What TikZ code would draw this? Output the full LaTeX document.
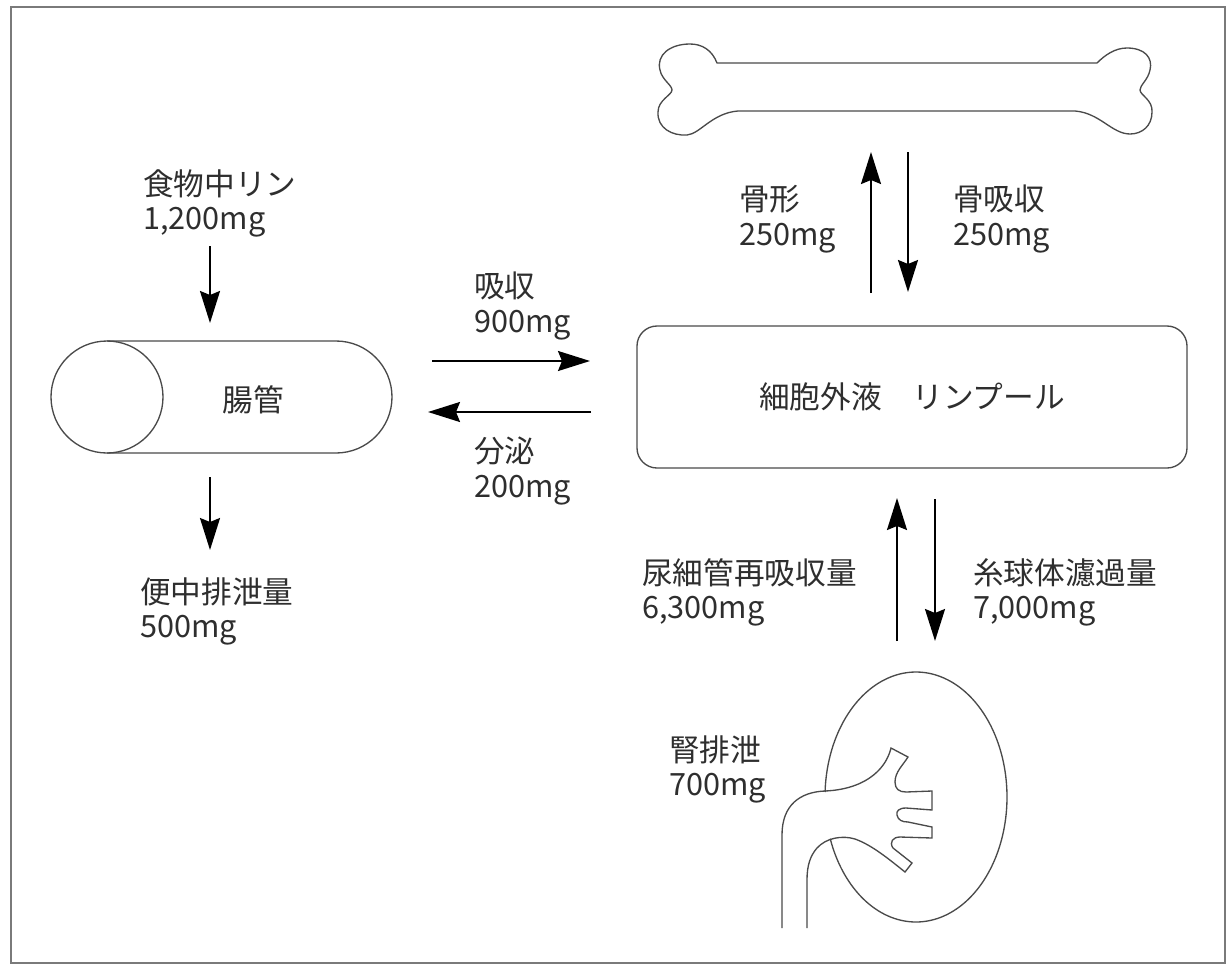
\documentclass[tikz,border=0pt]{standalone}
\usepackage{fontspec}
\setmainfont{Noto Sans CJK JP}
\usetikzlibrary{arrows.meta}
\definecolor{textgray}{HTML}{2E2E2E}
\definecolor{linegray}{HTML}{4A4A4A}
\definecolor{framegray}{HTML}{7A7A7A}
\begin{document}
\begin{tikzpicture}[x=0.75pt,y=-0.75pt,
  outline/.style={draw=linegray,line width=1pt},
  flow/.style={-{Stealth[length=24pt,width=15pt,inset=3pt]},line width=1.5pt,black},
  label/.style={anchor=north west,inner sep=0pt,align=left,text=textgray,
    font=\fontsize{23}{26}\selectfont},
  boxtext/.style={inner sep=0pt,text=textgray,font=\fontsize{23}{26}\selectfont}]
\useasboundingbox (0,0) rectangle (1231,968);

% outer frame
\draw[framegray,line width=2pt] (11,7) rectangle (1225,963);

% intestine: a tube seen from its open end
\draw[outline] (107,341) -- (336,341) arc[start angle=-90,end angle=90,radius=56] -- (107,453);
\draw[outline] (107,397) circle[radius=56];
\node[boxtext] (gut) at (253,400) {腸管};

% extracellular fluid pool
\node[outline,rounded corners=15pt,minimum width=412.5pt,minimum height=106.5pt,
  boxtext] (ecf) at (912,397) {細胞外液　リンプール};

% bone
\draw[outline] (717,63) -- (1097,63)
  .. controls (1105,55) and (1115,48) .. (1127,48)
  .. controls (1145,48) and (1153,58) .. (1150,70)
  .. controls (1148,80) and (1140,85) .. (1140,90)
  .. controls (1140,95) and (1153,100) .. (1152,112)
  .. controls (1152,126) and (1142,134) .. (1130,134)
  .. controls (1112,134) and (1100,113) .. (1075,111)
  -- (738,111)
  .. controls (712,113) and (700,134) .. (687,135)
  .. controls (672,136) and (657,128) .. (658,112)
  .. controls (658,100) and (672,95) .. (672,90)
  .. controls (672,85) and (662,80) .. (660,70)
  .. controls (656,55) and (670,44) .. (690,44)
  .. controls (702,44) and (712,50) .. (717,63) -- cycle;

% kidney
\draw[outline] plot[domain=182.3:520.5,samples=120,smooth]
  ({916+91*cos(\x)},{797+125*sin(\x)});
\draw[outline] (782,928) -- (782,835)
  .. controls (782,805) and (800,792) .. (825,791)
  .. controls (848,790) and (866,783) .. (878,771)
  .. controls (885,764) and (889,756) .. (891,748)
  -- (908,757)
  .. controls (903,765) and (895,772) .. (895,782)
  .. controls (895,789) and (899,792) .. (906,792)
  -- (932,791) -- (932,810) -- (906,808)
  .. controls (899,808) and (896,811) .. (897,815)
  .. controls (898,820) and (902,822) .. (908,822)
  -- (932,827) -- (932,838) -- (900,837)
  .. controls (893,837) and (889,842) .. (893,848)
  -- (912,863) -- (905,872)
  .. controls (890,860) and (872,845) .. (855,839)
  .. controls (842,835) and (826,838) .. (817,848)
  .. controls (810,856) and (807,866) .. (807,880)
  -- (807,928);

% arrow end points
\coordinate (foodA) at (210,246);
\coordinate (foodB) at (210,323);
\coordinate (fecA) at (210,477);
\coordinate (fecB) at (210,550);
\coordinate (absA) at (432,361);
\coordinate (absB) at (590,361);
\coordinate (secA) at (591,412);
\coordinate (secB) at (428,412);
\coordinate (formA) at (871,293);
\coordinate (formB) at (871,152);
\coordinate (resA) at (908,152);
\coordinate (resB) at (908,292);
\coordinate (reabA) at (897,641);
\coordinate (reabB) at (897,498);
\coordinate (filtA) at (935,499);
\coordinate (filtB) at (935,641);

\draw[flow] (foodA) -- (foodB);
\draw[flow] (fecA) -- (fecB);
\draw[flow] (absA) -- (absB);
\draw[flow] (secA) -- (secB);
\draw[flow] (formA) -- (formB);
\draw[flow] (resA) -- (resB);
\draw[flow] (reabA) -- (reabB);
\draw[flow] (filtA) -- (filtB);

% labels
\node[label] (food) at (143,169) {食物中リン\\1,200mg};
\node[label] (fecal) at (140,577) {便中排泄量\\500mg};
\node[label] (absorb) at (474,272) {吸収\\900mg};
\node[label] (secrete) at (474,437) {分泌\\200mg};
\node[label] (boneform) at (739,185) {骨形\\250mg};
\node[label] (boneres) at (953,185) {骨吸収\\250mg};
\node[label] (reabs) at (642,558) {尿細管再吸収量\\6,300mg};
\node[label] (filt) at (973,558) {糸球体濾過量\\7,000mg};
\node[label] (renal) at (669,735) {腎排泄\\700mg};
\end{tikzpicture}
\end{document}
